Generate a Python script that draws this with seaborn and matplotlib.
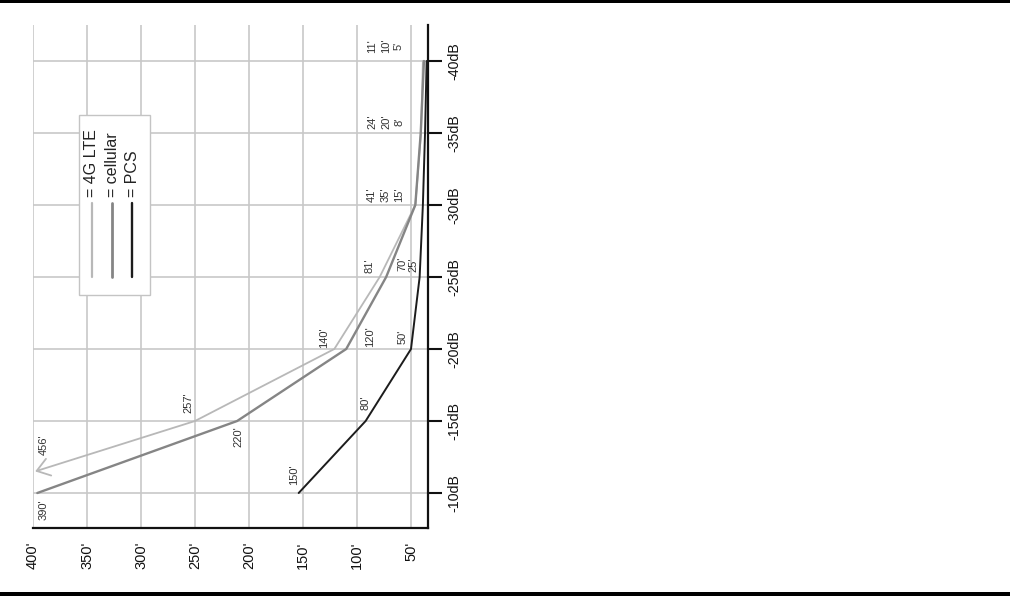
import matplotlib
matplotlib.use("Agg")
import matplotlib.pyplot as plt
import seaborn as sns
import pandas as pd
from matplotlib.patches import Rectangle
from matplotlib.lines import Line2D

# ---------------- data ----------------
db_levels = [-10, -15, -20, -25, -30, -35, -40]
db_tick_labels = ["-10dB", "-15dB", "-20dB", "-25dB", "-30dB", "-35dB", "-40dB"]
ft_ticks = [400, 350, 300, 250, 200, 150, 100, 50]
ft_tick_labels = ["400'", "350'", "300'", "250'", "200'", "150'", "100'", "50'"]

# plotted positions (feet)
lte_db = [-15, -20, -25, -30, -35, -40]
lte_ft = [250, 121, 79, 46, 40.7, 39]
lte_arrow_tip_ft = 398
lte_arrow_tip_db = -11.5
cell_ft = [396, 211, 110, 73, 46, 41, 38]
pcs_ft = [154, 92, 50, 42, 39, 37, 35.5]

# value labels written on the chart
lte_labels = ["456'", "257'", "140'", "81'", "41'", "24'", "11'"]
cell_labels = ["390'", "220'", "120'", "70'", "35'", "20'", "10'"]
pcs_labels = ["150'", "80'", "50'", "25'", "15'", "8'", "5'"]

series_names = ["4G LTE", "cellular", "PCS"]
series_colors = ["#b8b8b8", "#858585", "#1c1c1c"]
series_widths = [1.3, 1.7, 1.4]

# ---------------- style ----------------
sns.set_style("white")
plt.rcParams["font.family"] = ["Liberation Sans", "DejaVu Sans"]

fig = plt.figure(figsize=(10.1, 5.96), dpi=100)
ax = fig.add_axes([33 / 1010, 1 - 528 / 596, 395 / 1010, 503 / 596])

df = pd.concat([
    pd.DataFrame({"ft": lte_ft, "db": lte_db, "band": "4G LTE"}),
    pd.DataFrame({"ft": cell_ft, "db": db_levels, "band": "cellular"}),
    pd.DataFrame({"ft": pcs_ft, "db": db_levels, "band": "PCS"}),
], ignore_index=True)

for name, col, lw in zip(series_names, series_colors, series_widths):
    sub = df[df["band"] == name]
    sns.lineplot(data=sub, x="ft", y="db", ax=ax, color=col, linewidth=lw,
                 sort=False, legend=False, zorder=3)

# LTE arrow continuing off the chart
ax.annotate("", xy=(lte_arrow_tip_ft, lte_arrow_tip_db), xytext=(lte_ft[0], lte_db[0]),
            arrowprops=dict(arrowstyle="->,head_length=0.5,head_width=0.35",
                            color=series_colors[0], lw=1.3,
                            shrinkA=0, shrinkB=0, mutation_scale=18),
            zorder=3)

ax.set_xlim(400, 34.26)
ax.set_ylim(-7.57, -42.5)

ax.set_xticks(ft_ticks)
ax.set_xticklabels(ft_tick_labels, rotation=90, fontsize=10.5, color="#111111")
ax.yaxis.tick_right()
ax.set_yticks(db_levels)
ax.set_yticklabels(db_tick_labels, rotation=90, fontsize=10.2, va="center", color="#111111")
ax.tick_params(axis="y", direction="out", length=10, width=1.5, pad=4, color="#111111")
ax.tick_params(axis="x", direction="out", length=6, width=1.5, pad=4, color="#111111")
ax.set_xlabel("")
ax.set_ylabel("")

ax.grid(True, color="#c8c8c8", linewidth=1.2, zorder=0)
ax.set_axisbelow(True)
for side in ["left", "top"]:
    ax.spines[side].set_visible(False)
for side in ["right", "bottom"]:
    ax.spines[side].set_visible(True)
    ax.spines[side].set_color("#111111")
    ax.spines[side].set_linewidth(1.6)

# value label positions (feet, dB)
label_pos_lte = [(389.8, -13.33), (256.5, -16.25), (130.6, -20.76), (88, -25.76),
                 (86.1, -30.7), (86.1, -35.76), (86.1, -41.04)]
label_pos_cell = [(389.8, -8.82), (210.2, -13.9), (88, -20.83), (58.3, -25.9),
                  (73.1, -30.7), (73.1, -35.76), (73.1, -41.04)]
label_pos_pcs = [(158.3, -11.25), (91.7, -16.25), (57.4, -20.83), (48.1, -25.83),
                 (61.1, -30.7), (61.1, -35.76), (61.1, -41.04)]
for labels, poss in [(lte_labels, label_pos_lte), (cell_labels, label_pos_cell),
                     (pcs_labels, label_pos_pcs)]:
    for t, (x, y) in zip(labels, poss):
        ax.text(x, y, t, rotation=90, ha="center", va="center", fontsize=8,
                color="#333333", zorder=4)

# manual rotated legend
ax.add_patch(Rectangle((0.1165, 0.463), 0.1795, 0.358, transform=ax.transAxes,
                       facecolor="white", edgecolor="#c4c4c4", linewidth=1.0, zorder=5))
leg_x = [0.149, 0.200, 0.251]
for name, col, lw, lx in zip(series_names, series_colors, series_widths, leg_x):
    ax.add_line(Line2D([lx, lx], [0.499, 0.646], transform=ax.transAxes, color=col,
                       linewidth=lw + 0.3, zorder=6))
    ax.text(lx, 0.658, "= " + name, transform=ax.transAxes, rotation=90, ha="center",
            va="bottom", fontsize=11.5, color="#222222", zorder=6)

# black rules at top and bottom of the figure
fig.add_artist(Rectangle((0, 1 - 2.5 / 596), 1, 2.5 / 596, transform=fig.transFigure,
                         facecolor="black", edgecolor="none"))
fig.add_artist(Rectangle((0, 0), 1, 4 / 596, transform=fig.transFigure,
                         facecolor="black", edgecolor="none"))

fig.savefig("out.png", dpi=100)
